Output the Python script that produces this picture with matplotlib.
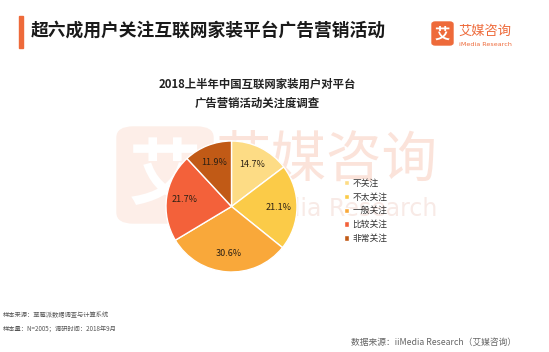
import matplotlib
matplotlib.use('Agg')
import matplotlib.pyplot as plt
from matplotlib.patches import FancyBboxPatch, Rectangle

plt.rcParams['font.family'] = ['Noto Sans CJK SC', 'DejaVu Sans']

# data
labels = ['不关注', '不太关注', '一般关注', '比较关注', '非常关注']
values = [14.7, 21.1, 30.6, 21.7, 11.9]
colors = ['#FDDC85', '#FBCB48', '#F9A83A', '#F3613A', '#C15A16']

title = '超六成用户关注互联网家装平台广告营销活动'
chart_title = ['2018上半年中国互联网家装用户对平台', '广告营销活动关注度调查']
notes = ['样本来源：草莓派数据调查与计算系统', '样本量：N=2005；调研时间：2018年9月']
source = '数据来源：iiMedia Research（艾媒咨询）'

W, H = 549, 352
fig = plt.figure(figsize=(W / 100, H / 100), dpi=100)
fig.patch.set_facecolor('white')


def fx(x):
    return x / W


def fy(y):
    return 1 - y / H


orange = '#EE6A3A'

# header
fig.patches.append(Rectangle((fx(19), fy(48)), 4 / W, 32 / H, transform=fig.transFigure,
                             color=orange, zorder=2))
fig.text(fx(31), fy(31), title, fontsize=12.8, fontweight='bold', color='#1a1a1a',
         va='center', ha='left')

# logo top right
fig.patches.append(FancyBboxPatch((fx(432), fy(45)), 21 / W, 23 / H, transform=fig.transFigure,
                                  boxstyle='round,pad=0,rounding_size=0.006', color=orange))
fig.text(fx(442.5), fy(33.5), '艾', fontsize=11, fontweight='bold', color='white',
         ha='center', va='center')
fig.text(fx(458), fy(31), '艾媒咨询', fontsize=9.5, color=orange, ha='left', va='center')
fig.text(fx(459), fy(44.5), 'iMedia Research', fontsize=4.6, color=orange, ha='left',
         va='center', family='DejaVu Sans')

# watermark
wm = '#FDEEE8'
fig.patches.append(FancyBboxPatch((fx(117), fy(223)), 96 / W, 96 / H, transform=fig.transFigure,
                                  boxstyle='round,pad=0,rounding_size=0.03', color=wm, zorder=0))
fig.text(fx(165), fy(178), '艾', fontsize=52, fontweight='bold', color='white',
         ha='center', va='center', zorder=0.5)
fig.text(fx(437), fy(161), '艾媒咨询', fontsize=40, color='#FBE3DA', ha='right',
         va='center', zorder=0.5)
fig.text(fx(437), fy(209), 'iMedia Research', fontsize=17, color='#F8EAE6', ha='right',
         va='center', zorder=0.5, family='DejaVu Sans')

# chart title
fig.text(fx(257), fy(84), chart_title[0], fontsize=8.2, fontweight='bold', color='#222222',
         ha='center', va='center')
fig.text(fx(257), fy(103), chart_title[1], fontsize=8.2, fontweight='bold', color='#222222',
         ha='center', va='center')

# pie
cx, cy, r = 231.5, 206.5, 65.5
ax = fig.add_axes([fx(cx - r), fy(cy + r), 2 * r / W, 2 * r / H])
ax.set_zorder(2)
wedges, texts, autotexts = ax.pie(values, colors=colors, startangle=90, counterclock=False,
                                  autopct='%.1f%%', pctdistance=0.72,
                                  wedgeprops=dict(edgecolor='white', linewidth=1),
                                  textprops=dict(fontsize=6.5, color='#2b2014'))
ax.set_xlim(-1, 1)
ax.set_ylim(-1, 1)
ax.axis('off')

leg = fig.legend(wedges, labels, loc='upper left', bbox_to_anchor=(fx(344), fy(178.5)),
                 frameon=False, fontsize=6.3, handlelength=0.55, handleheight=0.55,
                 handletextpad=0.4, labelspacing=0.56, borderpad=0, borderaxespad=0)
for t in leg.get_texts():
    t.set_color('#333333')

# footer
fig.text(fx(3), fy(315.5), notes[0], fontsize=4.5, color='#555555', ha='left', va='center')
fig.text(fx(3), fy(329), notes[1], fontsize=4.5, color='#555555', ha='left', va='center')
fig.text(fx(516), fy(342), source, fontsize=6.3, color='#666666', ha='right', va='center')

fig.savefig('out.png', dpi=100, facecolor='white')
